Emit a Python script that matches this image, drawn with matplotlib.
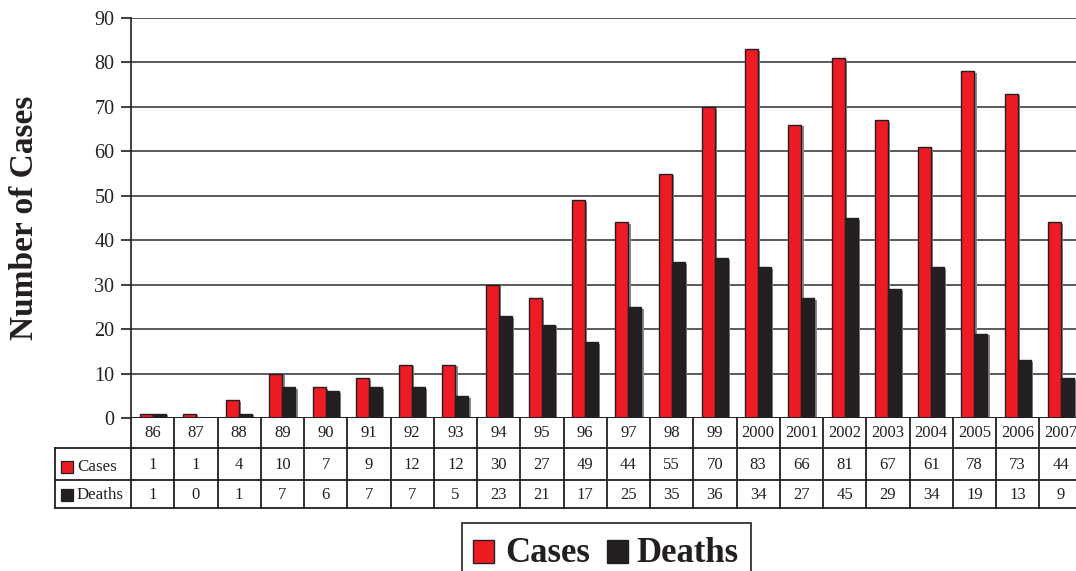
import matplotlib
matplotlib.use("Agg")
import matplotlib.pyplot as plt
from matplotlib.patches import Rectangle
from matplotlib.lines import Line2D
import matplotlib.transforms as mtransforms

plt.rcParams['font.family'] = ['Liberation Serif', 'DejaVu Serif']

years = ["86", "87", "88", "89", "90", "91", "92", "93", "94", "95", "96", "97",
         "98", "99", "2000", "2001", "2002", "2003", "2004", "2005", "2006", "2007"]
cases = [1, 1, 4, 10, 7, 9, 12, 12, 30, 27, 49, 44, 55, 70, 83, 66, 81, 67, 61, 78, 73, 44]
deaths = [1, 0, 1, 7, 6, 7, 7, 5, 23, 21, 17, 25, 35, 36, 34, 27, 45, 29, 34, 19, 13, 9]
series_names = ["Cases", "Deaths"]
yticks = list(range(0, 100, 10))

RED = "#ED1C24"
BLACK = "#231F20"
GRID = "#5a5a5a"

W, H = 1076, 571
fig = plt.figure(figsize=(W / 100, H / 100), dpi=100)


def fx(px):
    return px / W


def fy(py):
    return 1 - py / H


# plot area: left edge at x=131, extends past the right edge of the figure
ax_left, ax_top, ax_bottom = 131, 18, 418
col_w = 43.25
ax_right = ax_left + col_w * len(years)
ax = fig.add_axes([fx(ax_left), fy(ax_bottom), fx(ax_right) - fx(ax_left), fy(ax_top) - fy(ax_bottom)])

x = list(range(len(years)))
bw = 0.3
xc = [i - bw / 2 for i in x]
xd = [i + bw / 2 for i in x]

# soft gray shadows to the right of each bar
sh = 0.05
ax.bar([v + sh for v in xc], [max(c - 0.4, 0) for c in cases], width=bw, color="#8a8a8a", zorder=2, linewidth=0)
ax.bar([v + sh for v in xd], [max(d - 0.4, 0) for d in deaths], width=bw, color="#8a8a8a", zorder=2, linewidth=0)
ax.bar(xc, cases, width=bw, color=RED, edgecolor=BLACK, linewidth=1.0, zorder=3)
ax.bar(xd, deaths, width=bw, color=BLACK, edgecolor=BLACK, linewidth=1.0, zorder=3)

ax.set_xlim(-0.5, len(years) - 0.5)
ax.set_ylim(0, 90)
ax.set_yticks(yticks)
ax.set_yticklabels([str(t) for t in yticks], fontsize=14.5, color="#222222")
ax.set_xticks([])
ax.yaxis.grid(True, color=GRID, linewidth=1.4, zorder=0)
ax.set_axisbelow(True)
for s in ["top", "right", "bottom"]:
    ax.spines[s].set_visible(False)
ax.spines["left"].set_color(BLACK)
ax.spines["left"].set_linewidth(1.2)
ax.tick_params(axis="y", length=7, width=1.2, color=BLACK, pad=5)
ax.axhline(0, color=BLACK, linewidth=1.4, zorder=4)

fig.text(fx(25), fy(218), "Number of Cases", rotation=90, ha="center", va="center",
         fontsize=24, fontweight="bold", color=BLACK)

# data table beneath the plot
line_kw = dict(color=BLACK, linewidth=1.3, clip_on=False)
tr = mtransforms.blended_transform_factory(ax.transData, fig.transFigure)
row_y = [418, 448, 480, 508]
tbl_left = 55
for ry in row_y[1:]:
    fig.add_artist(Line2D([fx(tbl_left), fx(ax_right)], [fy(ry), fy(ry)], **line_kw))
fig.add_artist(Line2D([fx(tbl_left), fx(tbl_left)], [fy(row_y[1]), fy(row_y[3])], **line_kw))
for i in range(len(years) + 1):
    xb = i - 0.5
    fig.add_artist(Line2D([xb, xb], [fy(row_y[0]), fy(row_y[3])], transform=tr, **line_kw))

for i, (yr, c, d) in enumerate(zip(years, cases, deaths)):
    fig.text(i, fy(433), yr, transform=tr, ha="center", va="center", fontsize=12, color=BLACK)
    fig.text(i, fy(465), str(c), transform=tr, ha="center", va="center", fontsize=12, color=BLACK)
    fig.text(i, fy(495), str(d), transform=tr, ha="center", va="center", fontsize=12, color=BLACK)

for name, col, cy in [(series_names[0], RED, 467), (series_names[1], BLACK, 495)]:
    fig.add_artist(Rectangle((fx(61), fy(cy + 6)), fx(12), fy(cy - 6) - fy(cy + 6),
                             facecolor=col, edgecolor=BLACK, linewidth=0.9))
    fig.text(fx(77), fy(cy), name, ha="left", va="center", fontsize=12.2, color=BLACK)

# legend box at the bottom
fig.add_artist(Rectangle((fx(462), fy(580)), fx(751) - fx(462), fy(523) - fy(580),
                         facecolor="white", edgecolor="#333333", linewidth=1.3))
fig.add_artist(Rectangle((fx(473), fy(563)), fx(21), fy(540) - fy(563),
                         facecolor=RED, edgecolor=BLACK, linewidth=1.0))
fig.text(fx(505), fy(553), series_names[0], ha="left", va="center", fontsize=25,
         fontweight="bold", color=BLACK)
fig.add_artist(Rectangle((fx(607), fy(563)), fx(21), fy(540) - fy(563),
                         facecolor=BLACK, edgecolor=BLACK, linewidth=1.0))
fig.text(fx(636), fy(553), series_names[1], ha="left", va="center", fontsize=25,
         fontweight="bold", color=BLACK)

fig.savefig("out.png", dpi=100)
